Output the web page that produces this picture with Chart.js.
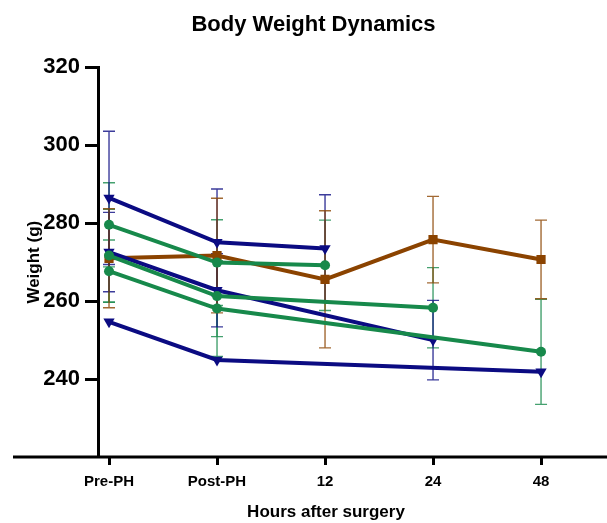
<!DOCTYPE html>
<html>
<head>
<meta charset="utf-8">
<script src="https://cdn.jsdelivr.net/npm/chart.js@4"></script>
<style>
  html, body { margin: 0; padding: 0; background: #fff; }
  #wrap { width: 607px; height: 523px; }
</style>
</head>
<body>
<div id="wrap"><canvas id="weightChart" width="607" height="523"></canvas></div>
<script>
// time points on the x axis and y tick labels
const timepoints = ['Pre-PH', 'Post-PH', '12', '24', '48'];
const yTicks = [240, 260, 280, 300, 320];

// mean weights (g) and SD per line, null = not measured
const blueA = [286.5, 275.1, 273.5, null, null];
const blueASd = [17.1, 13.7, 13.8, null, null];
const blueB = [272.6, 262.8, null, 250.0, null];
const blueBSd = [10.2, 9.4, null, 10.2, null];
const blueC = [254.7, 244.9, null, null, 241.9];
const blueCSd = [null, null, null, null, null];

const greenA = [279.6, 269.9, 269.2, null, null];
const greenASd = [10.8, 11.0, 11.6, null, null];
const greenB = [271.7, 261.3, null, 258.3, null];
const greenBSd = [11.9, 10.4, null, 10.3, null];
const greenC = [267.7, 258.1, null, null, 247.0];
const greenCSd = [8.0, 12.3, null, null, 13.5];

const brown = [271.0, 271.7, 265.6, 275.8, 270.7];
const brownSd = [12.7, 14.7, 17.6, 11.1, 10.1];

const BLUE = '#0b0b82';
const GREEN = '#17894b';
const BROWN = '#8b4300';
const FONT = "'Liberation Sans', Arial, Helvetica, sans-serif";

function toPoints(values) {
    return values.map((v, i) => ({ x: i, y: v }));
}

function series(values, sd, color, style, radius, rotation, order) {
    return {
        data: toPoints(values),
        sd: sd,
        borderColor: color,
        backgroundColor: color,
        borderWidth: 4,
        pointStyle: style,
        pointRadius: radius,
        pointRotation: rotation,
        pointBorderWidth: 0,
        spanGaps: true,
        order: order
    };
}

// SD bars drawn under the lines
const errorBars = {
    id: 'errorBars',
    beforeDatasetsDraw(chart) {
        const ctx = chart.ctx;
        chart.data.datasets.forEach((ds, di) => {
            const meta = chart.getDatasetMeta(di);
            const xs = chart.scales[meta.xAxisID];
            const ys = chart.scales[meta.yAxisID];
            ctx.save();
            ctx.strokeStyle = ds.borderColor;
            ctx.globalAlpha = 0.8;
            ctx.lineWidth = 1.4;
            ds.sd.forEach((sd, i) => {
                const v = ds.data[i].y;
                if (v == null || sd == null) return;
                const x = xs.getPixelForValue(i);
                const top = ys.getPixelForValue(v + sd);
                const bot = ys.getPixelForValue(v - sd);
                ctx.beginPath();
                ctx.moveTo(x, top); ctx.lineTo(x, bot);
                ctx.moveTo(x - 6, top); ctx.lineTo(x + 6, top);
                ctx.moveTo(x - 6, bot); ctx.lineTo(x + 6, bot);
                ctx.stroke();
            });
            ctx.restore();
        });
    }
};

// long x axis line that runs past the y axis, GraphPad style
const xAxisLine = {
    id: 'xAxisLine',
    afterDraw(chart) {
        const ctx = chart.ctx;
        const y = chart.chartArea.bottom;
        ctx.save();
        ctx.strokeStyle = '#000';
        ctx.lineWidth = 3;
        ctx.beginPath();
        ctx.moveTo(chart.chartArea.left - 85, y);
        ctx.lineTo(chart.width, y);
        ctx.stroke();
        ctx.restore();
    }
};

Chart.defaults.color = '#000';
Chart.defaults.font.family = FONT;

const ctx = document.getElementById('weightChart').getContext('2d');

new Chart(ctx, {
    type: 'line',
    data: {
        datasets: [
            series(greenA, greenASd, GREEN, 'circle', 5, 0, 1),
            series(greenB, greenBSd, GREEN, 'circle', 5, 0, 2),
            series(greenC, greenCSd, GREEN, 'circle', 5, 0, 3),
            series(blueA, blueASd, BLUE, 'triangle', 6.5, 180, 4),
            series(blueB, blueBSd, BLUE, 'triangle', 6.5, 180, 5),
            series(blueC, blueCSd, BLUE, 'triangle', 6.5, 180, 6),
            series(brown, brownSd, BROWN, 'rect', 6.5, 0, 7)
        ]
    },
    options: {
        responsive: false,
        animation: false,
        layout: { padding: { left: 20, right: 0, top: 0, bottom: 0 } },
        plugins: {
            legend: { display: false },
            tooltip: { enabled: false },
            title: {
                display: true,
                text: 'Body Weight Dynamics',
                font: { size: 22, weight: 'bold', family: FONT },
                color: '#000',
                padding: { top: 12, bottom: 29 }
            }
        },
        scales: {
            x: {
                type: 'linear',
                min: -0.102,
                max: 4.12,
                afterBuildTicks: function(scale) {
                    scale.ticks = timepoints.map((t, i) => ({ value: i }));
                },
                afterFit: function(scale) { scale.height = 66; },
                border: { display: false },
                grid: {
                    drawOnChartArea: false,
                    tickLength: 8,
                    tickWidth: 3,
                    tickColor: '#000'
                },
                ticks: {
                    padding: 8,
                    maxRotation: 0,
                    font: { size: 15, weight: 'bold' },
                    callback: function(value) { return timepoints[value]; }
                },
                title: {
                    display: true,
                    text: 'Hours after surgery',
                    font: { size: 17, weight: 'bold' },
                    padding: { top: 0, bottom: 0 }
                }
            },
            y: {
                min: 220,
                max: 320,
                afterBuildTicks: function(scale) {
                    scale.ticks = yTicks.map(v => ({ value: v }));
                },
                afterFit: function(scale) { scale.width = 78; },
                border: { display: true, width: 3, color: '#000' },
                grid: {
                    drawOnChartArea: false,
                    tickLength: 13,
                    tickWidth: 3,
                    tickColor: '#000'
                },
                ticks: {
                    padding: 5,
                    font: { size: 22, weight: 'bold' }
                },
                title: {
                    display: true,
                    text: 'Weight (g)',
                    font: { size: 17, weight: 'bold' },
                    padding: { top: 4, bottom: 0 }
                }
            },
            // empty axis only to keep the right margin of the plot
            yRight: {
                position: 'right',
                display: false,
                afterFit: function(scale) { scale.width = 53; }
            }
        }
    },
    plugins: [errorBars, xAxisLine]
});
</script>
</body>
</html>
